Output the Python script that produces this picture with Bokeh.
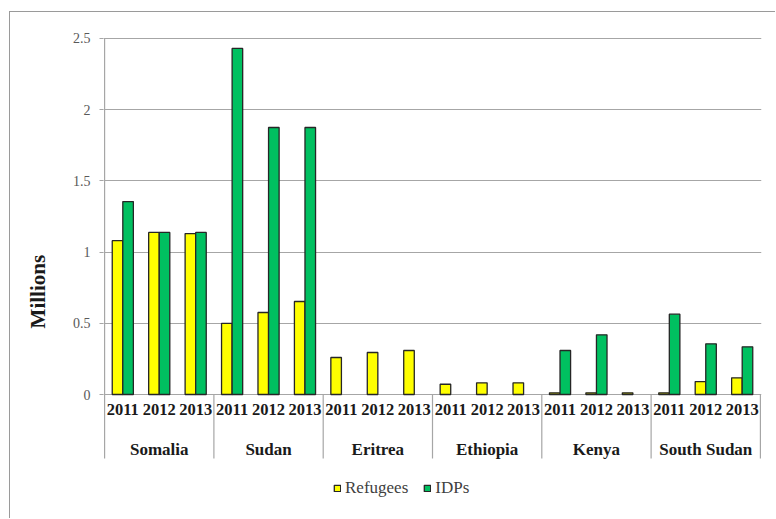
from bokeh.plotting import figure
from bokeh.models import (ColumnDataSource, FactorRange, Range1d, FixedTicker, NumeralTickFormatter,
                          Legend, LegendItem)
from bokeh.transform import dodge
from bokeh.core.properties import value
from bokeh.embed import file_html
from bokeh.resources import INLINE

countries = ["Somalia", "Sudan", "Eritrea", "Ethiopia", "Kenya", "South Sudan"]
years = ["2011", "2012", "2013"]
refugees = [1.08, 1.138, 1.13,
            0.50, 0.576, 0.653,
            0.26, 0.295, 0.309,
            0.072, 0.082, 0.082,
            0.012, 0.012, 0.012,
            0.012, 0.091, 0.117]
idps = [1.355, 1.138, 1.138,
        2.43, 1.875, 1.875,
        0.0, 0.0, 0.0,
        0.0, 0.0, 0.0,
        0.309, 0.419, 0.0,
        0.564, 0.356, 0.335]
y_ticks = [0, 0.5, 1, 1.5, 2, 2.5]

factors = [(c, y) for c in countries for y in years]
nan = float("nan")
src = ColumnDataSource(dict(
    x=factors,
    ref=[v if v > 0 else nan for v in refugees],
    idp=[v if v > 0 else nan for v in idps],
    year=[f[1] for f in factors],
))

FONT = "Liberation Serif"
GRID = "#a6a6a6"
Y_BOTTOM = -0.8778
SEP_BOTTOM = -0.4494

p = figure(width=766, height=507, output_backend="svg", toolbar_location=None,
           x_range=FactorRange(*factors, factor_padding=0, group_padding=0,
                               range_padding=0.03, range_padding_units="absolute"),
           y_range=Range1d(Y_BOTTOM, 2.507),
           min_border_left=93, min_border_right=15, min_border_top=25, min_border_bottom=0)
p.styles = {"margin-left": "9px", "margin-top": "11px",
            "border-left": "1px solid #9a9a9a", "border-top": "1px solid #9a9a9a"}
p.outline_line_color = None
p.background_fill_color = "white"
p.border_fill_color = "white"

p.xaxis.visible = False
p.xgrid.grid_line_color = None
p.ygrid.grid_line_color = GRID
p.ygrid.grid_line_width = 1.2
p.yaxis.ticker = FixedTicker(ticks=y_ticks)
p.ygrid.ticker = FixedTicker(ticks=y_ticks)
p.yaxis.formatter = NumeralTickFormatter(format="0.[0]")
p.yaxis.major_tick_out = 4
p.yaxis.major_tick_in = 0
p.yaxis.minor_tick_line_color = None
p.yaxis.axis_line_color = None
p.yaxis.major_tick_line_color = GRID
p.yaxis.major_label_text_font = FONT
p.yaxis.major_label_text_font_size = "14px"
p.yaxis.major_label_text_color = "#595959"
p.yaxis.major_label_standoff = 9
p.yaxis.axis_label = "Millions" + "\u00a0" * 5
p.yaxis.axis_label_text_font = FONT
p.yaxis.axis_label_text_font_style = "bold"
p.yaxis.axis_label_text_font_size = "21px"
p.yaxis.axis_label_text_color = "#1a1a1a"
p.yaxis.axis_label_standoff = 20

r_ref = p.vbar(x=dodge("x", -0.145, range=p.x_range), top="ref", bottom=0, width=0.29, source=src,
               fill_color="#FFFF00", line_color="#262626", line_width=1.3)
r_idp = p.vbar(x=dodge("x", 0.145, range=p.x_range), top="idp", bottom=0, width=0.29, source=src,
               fill_color="#00C060", line_color="#262626", line_width=1.3)

# left axis line (value range) and category separators
p.segment(x0=dodge("x", -0.5, range=p.x_range), x1=dodge("x", -0.5, range=p.x_range), y0=2.5, y1=0,
          source=ColumnDataSource(dict(x=[(countries[0], years[0])])), line_color=GRID, line_width=1.2)
sep_x = [(c, "2011") for c in countries]
p.segment(x0=dodge("x", -0.5, range=p.x_range), x1=dodge("x", -0.5, range=p.x_range), y0=0, y1=SEP_BOTTOM,
          source=ColumnDataSource(dict(x=sep_x)), line_color=GRID, line_width=1.2)
p.segment(x0=dodge("x", 0.5, range=p.x_range), x1=dodge("x", 0.5, range=p.x_range), y0=0, y1=SEP_BOTTOM,
          source=ColumnDataSource(dict(x=[(countries[-1], years[-1])])), line_color=GRID, line_width=1.2)

# year labels
p.text(x="x", y=-0.105, text="year", source=src, text_align="center", text_baseline="middle",
       text_font=value(FONT), text_font_style="bold", text_font_size="16.5px", text_color="#1a1a1a")
# country labels
p.text(x="x", y=-0.386, text="c", source=ColumnDataSource(dict(x=[(c, "2012") for c in countries], c=countries)),
       text_align="center", text_baseline="middle",
       text_font=value(FONT), text_font_style="bold", text_font_size="17px", text_color="#1a1a1a")

legend = Legend(items=[LegendItem(label="Refugees", renderers=[r_ref]),
                       LegendItem(label="IDPs", renderers=[r_idp])],
                orientation="horizontal", location=(230, 21), glyph_width=8, glyph_height=8,
                label_standoff=4, spacing=15, padding=0, margin=0, border_line_color=None,
                background_fill_alpha=0, label_text_font=FONT, label_text_font_size="17px",
                label_text_color="#404040", label_height=16)
p.add_layout(legend)

open("out.html", "w").write(file_html(p, INLINE))
